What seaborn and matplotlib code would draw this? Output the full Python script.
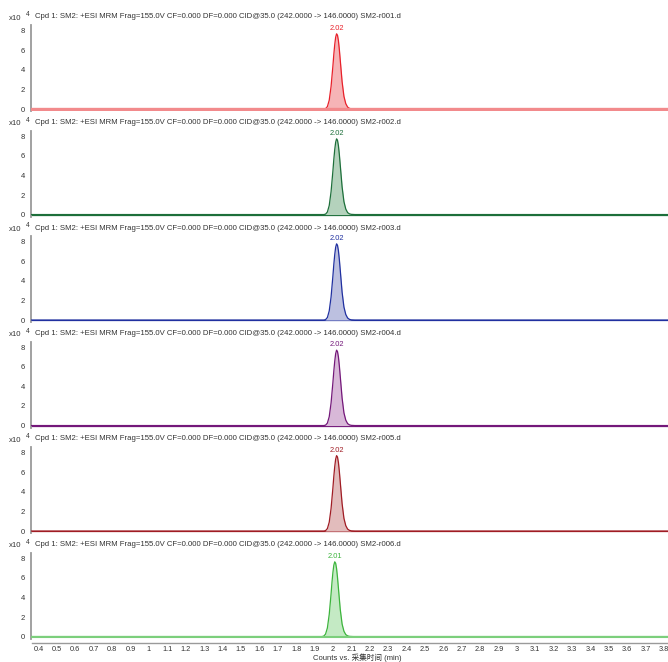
import matplotlib
matplotlib.use("Agg")
import matplotlib.pyplot as plt
import numpy as np
import pandas as pd
import seaborn as sns

sns.set_style("white")
plt.rcParams["font.family"] = ["Liberation Sans", "Noto Sans CJK SC", "DejaVu Sans"]

# Acquisition time (min) for the MRM traces
time_a = [0.36, 1.90, 1.95, 1.96, 1.97, 1.98, 1.99, 2.00, 2.005, 2.01, 2.015, 2.02,
          2.025, 2.03, 2.035, 2.04, 2.05, 2.06, 2.07, 2.08, 2.09, 2.10, 2.12, 3.85]
time_b = [0.36, 1.89, 1.94, 1.95, 1.96, 1.97, 1.98, 1.99, 1.995, 2.00, 2.005, 2.01,
          2.015, 2.02, 2.025, 2.03, 2.04, 2.05, 2.06, 2.07, 2.08, 2.09, 2.11, 3.85]

# Counts (x10^4) for each injection
counts_r001 = [0, 0, 0.00, 0.04, 0.25, 0.90, 2.30, 4.40, 5.60, 6.60, 7.35, 7.70,
               7.55, 7.00, 6.10, 5.00, 2.80, 1.30, 0.55, 0.20, 0.07, 0.02, 0, 0]
counts_r002 = [0, 0, 0.00, 0.04, 0.26, 0.92, 2.33, 4.45, 5.65, 6.65, 7.40, 7.75,
               7.60, 7.05, 6.15, 5.05, 2.83, 1.32, 0.56, 0.20, 0.07, 0.02, 0, 0]
counts_r003 = [0, 0, 0.00, 0.04, 0.26, 0.93, 2.35, 4.50, 5.70, 6.70, 7.45, 7.80,
               7.65, 7.10, 6.20, 5.10, 2.85, 1.33, 0.57, 0.21, 0.07, 0.02, 0, 0]
counts_r004 = [0, 0, 0.00, 0.04, 0.25, 0.90, 2.30, 4.40, 5.58, 6.58, 7.35, 7.72,
               7.57, 7.02, 6.12, 5.02, 2.81, 1.30, 0.55, 0.20, 0.07, 0.02, 0, 0]
counts_r005 = [0, 0, 0.00, 0.04, 0.25, 0.90, 2.30, 4.40, 5.60, 6.60, 7.36, 7.72,
               7.57, 7.02, 6.11, 5.01, 2.80, 1.30, 0.55, 0.20, 0.07, 0.02, 0, 0]
counts_r006 = [0, 0, 0.00, 0.04, 0.25, 0.88, 2.26, 4.35, 5.55, 6.55, 7.30, 7.65,
               7.50, 6.95, 6.05, 4.95, 2.77, 1.28, 0.54, 0.20, 0.07, 0.02, 0, 0]

files = ["SM2-r001.d", "SM2-r002.d", "SM2-r003.d", "SM2-r004.d", "SM2-r005.d", "SM2-r006.d"]
traces = [counts_r001, counts_r002, counts_r003, counts_r004, counts_r005, counts_r006]
times = [time_a, time_a, time_a, time_a, time_a, time_b]

x_ticks = [round(0.4 + 0.1 * k, 1) for k in range(35)]
x_tick_labels = [("%g" % v) for v in x_ticks]
y_ticks = [0, 2, 4, 6, 8]

line_colors = ["#e8202a", "#1d6f3a", "#2030a0", "#74187a", "#a01c24", "#3cb43c"]
fill_colors = ["#f6b4b6", "#b4d2bc", "#bcc0e0", "#d8b8d8", "#e2bcbc", "#c4eac4"]
base_colors = ["#f28a8c", "#1d6f3a", "#2030a0", "#74187a", "#a01c24", "#7ccf7c"]
base_widths = [2.4, 0.9, 0.9, 0.9, 0.9, 1.5]
base_on_top = [True, False, False, False, False, True]

title_fmt = ("Cpd 1: SM2: +ESI MRM Frag=155.0V CF=0.000 DF=0.000 "
             "CID@35.0 (242.0000 -> 146.0000) {}")

W, H = 668, 662
fig = plt.figure(figsize=(W / 100, H / 100), dpi=100)

px_per_min = 184.0
x_lo = 0.4 - (38.5 - 31.5) / px_per_min
x_hi = 0.4 + (W - 38.5) / px_per_min
text_col = "#333333"
spine_col = "#9a9a9a"

for i in range(6):
    top = 25 + 105.5 * i
    bot = 111 + 105.5 * i
    ax = fig.add_axes([31.5 / W, 1 - bot / H, (W - 31.5) / W, (bot - top) / H])
    df = pd.DataFrame({"time": times[i], "counts": traces[i]})

    ax.axhline(0, color=base_colors[i], lw=base_widths[i],
               zorder=4 if base_on_top[i] else 1)
    ax.fill_between(df["time"], 0, df["counts"], color=fill_colors[i], lw=0, zorder=2)
    sns.lineplot(data=df, x="time", y="counts", ax=ax, color=line_colors[i],
                 lw=0.9, zorder=3, legend=False)

    k = int(np.argmax(df["counts"]))
    ax.annotate("%.2f" % df["time"][k], (df["time"][k], df["counts"][k]),
                xytext=(0, 1.2), textcoords="offset points", ha="center", va="bottom",
                fontsize=5.4, color=line_colors[i])

    ax.set_xlim(x_lo, x_hi)
    ax.set_ylim(-0.2, 8.6)
    ax.set_xlabel("")
    ax.set_ylabel("")
    ax.set_yticks(y_ticks)
    ax.set_yticklabels([str(v) for v in y_ticks])
    for s in ["top", "right"]:
        ax.spines[s].set_visible(False)
    ax.spines["left"].set_color(spine_col)
    ax.spines["left"].set_linewidth(1.3)
    ax.tick_params(axis="y", direction="out", length=3, width=0.8, color=spine_col,
                   labelsize=5.5, labelcolor=text_col, pad=1.5)

    if i < 5:
        ax.spines["bottom"].set_visible(False)
        ax.set_xticks([])
    else:
        ax.spines["bottom"].set_position(("outward", 3))
        ax.spines["bottom"].set_color(spine_col)
        ax.spines["bottom"].set_linewidth(1.0)
        ax.set_xticks(x_ticks)
        ax.set_xticklabels(x_tick_labels)
        ax.tick_params(axis="x", direction="out", length=2.2, width=0.8, color=spine_col,
                       labelsize=5.3, labelcolor=text_col, pad=0.3)

    fig.text(9 / W, 1 - (top - 7) / H, "x10", fontsize=5.6, color=text_col,
             va="center", ha="left")
    fig.text(25.5 / W, 1 - (top - 10) / H, "4", fontsize=4.8, color=text_col,
             va="center", ha="left")
    fig.text(35 / W, 1 - (top - 8) / H, title_fmt.format(files[i]), fontsize=5.6,
             color=text_col, va="center", ha="left")

fig.text(357 / W, 1 - 658 / H, "Counts vs. 采集时间 (min)", fontsize=5.5,
         color=text_col, ha="center", va="center")

fig.savefig("out.png", dpi=100)
